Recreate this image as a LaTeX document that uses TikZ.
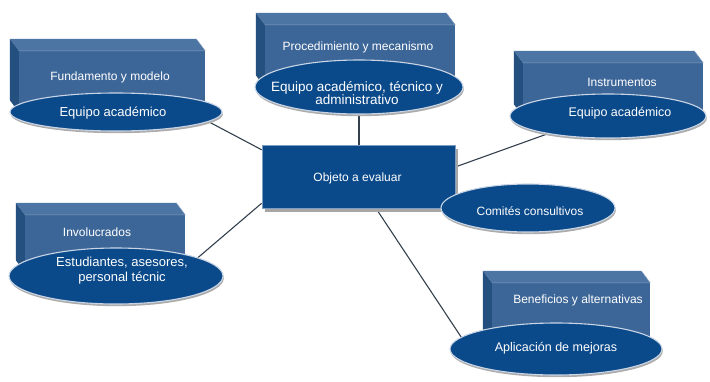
\documentclass[tikz,border=0pt]{standalone}
\usepackage{fontspec}
\setmainfont{Liberation Sans}
\usetikzlibrary{shapes.geometric,shadows,calc}
\definecolor{navy}{HTML}{0B4A8A}
\definecolor{boxfront}{HTML}{3D6698}
\definecolor{boxtop}{HTML}{4C75A4}
\definecolor{boxside}{HTML}{24507F}
\definecolor{rim}{HTML}{C9D5E5}
\definecolor{linec}{HTML}{34404E}
\newcommand\prismfaces[1]{%
  \fill[boxtop] (#1.north west) -- (#1.north east) -- ([shift={(-9,-12)}]#1.north east) -- ([shift={(-9,-12)}]#1.north west) -- cycle;
  \fill[boxside] (#1.north west) -- ([shift={(-9,-12)}]#1.north west) -- ([shift={(-9,-12)}]#1.south west) -- (#1.south west) -- cycle;
  \draw[boxtop!70!white, line width=0.5pt] (#1.north west) -- (#1.north east) ([shift={(-9,-12)}]#1.north east) -- (#1.north east);
}
\begin{document}
\begin{tikzpicture}[x=1pt,y=-1pt,
  front/.style={rectangle, fill=boxfront, inner sep=0pt},
  boxtext/.style={text=white, font=\fontsize{12}{13}\selectfont, inner sep=0pt},
  oval/.style={ellipse, fill=navy, draw=rim, line width=1.1pt, inner sep=0pt,
    drop shadow={shadow xshift=0.8pt, shadow yshift=-2.2pt, fill=gray!65, opacity=1}},
  ovaltext/.style={text=white, align=center, inner sep=0pt},
  centerbox/.style={rectangle, fill=navy, draw=rim!60!navy, line width=0.6pt, inner sep=0pt,
    drop shadow={shadow xshift=3pt, shadow yshift=-3.5pt, fill=gray!70, opacity=1}},
  link/.style={draw=linec, line width=1.1pt},
]
\useasboundingbox (0,0) rectangle (710,381);

% positions of nodes
\path (358.5,176.5) node[centerbox, minimum width=193pt, minimum height=63pt] (obj) {};
\path (116,112) coordinate (e1c) (359,87) coordinate (e2c) (608,116) coordinate (e3c)
      (116,276) coordinate (e4c) (556,349) coordinate (e5c);

% connectors
\draw[link] ($(obj.west)!0.84!(obj.north west)$) -- ($(e1c)!0.7!(222,112)$);
\draw[link] (e2c |- obj.north) -- (e2c);
\draw[link] ($(obj.east)!0.3!(obj.north east)$) -- ($(e3c)!0.11!(510,116)$);
\draw[link] ($(obj.west)!0.84!(obj.south west)$) -- ($(e4c)!0.57!(222,276)$);
\draw[link] ($(obj.south)!0.18!(obj.south east)$) -- ($(e5c)!0.82!(450,349)$);

% redraw centre box on top of connectors
\node[centerbox, minimum width=193pt, minimum height=63pt] (objb) at (obj) {};
\node[text=white, font=\fontsize{12}{13}\selectfont] (objt) at (357.5,178) {Objeto a evaluar};

% prisms
\node[front, minimum width=186pt, minimum height=61pt] (b1) at (112,81.5) {};
\prismfaces{b1}
\node[boxtext] (t1) at (110,77) {Fundamento y modelo};
\node[front, minimum width=190pt, minimum height=62pt] (b2) at (360,56) {};
\prismfaces{b2}
\node[boxtext] (t2) at (358,47) {Procedimiento y mecanismo};
\node[front, minimum width=180pt, minimum height=53pt] (b3) at (613,89.5) {};
\prismfaces{b3}
\node[boxtext] (t3) at (622,82) {Instrumentos};
\node[front, minimum width=160pt, minimum height=57pt] (b4) at (105,243.5) {};
\prismfaces{b4}
\node[boxtext] (t4) at (97,232) {Involucrados};
\node[front, minimum width=158pt, minimum height=66pt] (b5) at (571,316) {};
\prismfaces{b5}
\node[boxtext] (t5) at (578,300) {Beneficios y alternativas};

% ellipses
\node[oval, minimum width=212pt, minimum height=38pt] (e1) at (e1c) {};
\node[ovaltext, font=\fontsize{13}{14}\selectfont] (e1t) at (113,113) {Equipo académico};
\node[oval, minimum width=208pt, minimum height=54pt] (e2) at (e2c) {};
\node[ovaltext, font=\fontsize{13.5}{13.5}\selectfont] (e2t) at (357,93) {Equipo académico, técnico y\\administrativo};
\node[oval, minimum width=196pt, minimum height=44pt] (e3) at (e3c) {};
\node[ovaltext, font=\fontsize{12.5}{14}\selectfont] (e3t) at (620,113) {Equipo académico};
\node[oval, minimum width=214pt, minimum height=56pt] (e4) at (e4c) {};
\node[ovaltext, font=\fontsize{13}{15}\selectfont] (e4t) at (122,271) {Estudiantes, asesores,\\personal técnic};
\node[oval, minimum width=212pt, minimum height=52pt] (e5) at (e5c) {};
\node[ovaltext, font=\fontsize{12.5}{14}\selectfont] (e5t) at (556,348) {Aplicación de mejoras};
\node[oval, minimum width=174pt, minimum height=48pt] (ec) at (528,208) {};
\node[ovaltext, font=\fontsize{12}{14}\selectfont] (ect) at (530,211) {Comités consultivos};
\end{tikzpicture}
\end{document}
